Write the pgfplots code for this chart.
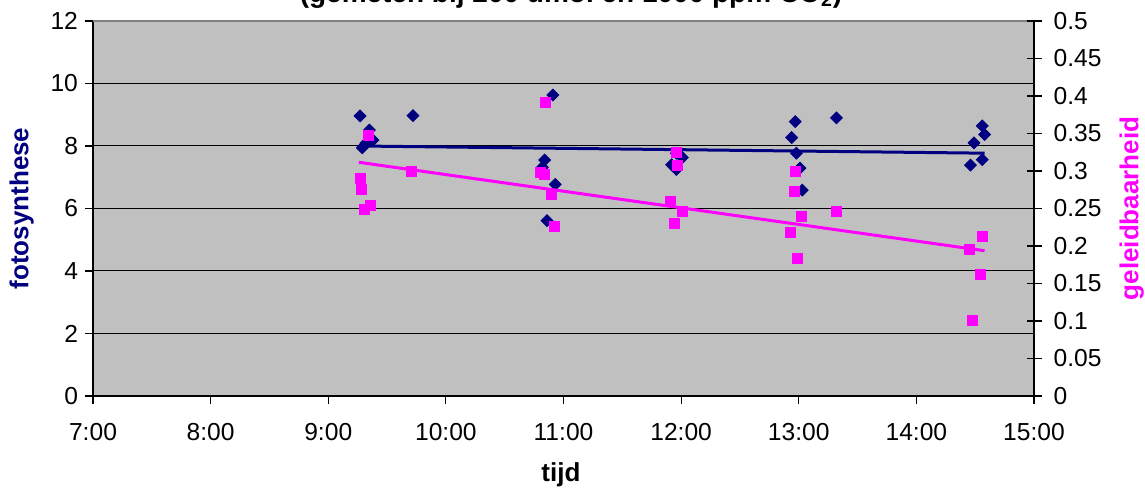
\documentclass[border=0pt]{standalone}
\usepackage{fontspec}
\setmainfont{Liberation Sans}
\usepackage{pgfplots}
\usepackage{pgfplotstable}
\pgfplotsset{compat=1.18}
\usetikzlibrary{calc}

\definecolor{fotoblue}{HTML}{000080}
\definecolor{geleidpink}{HTML}{FF00FF}
\definecolor{plotgrey}{HTML}{C0C0C0}
\definecolor{framegrey}{HTML}{808080}

% fotosynthese per meting (tijd in uren)
\pgfplotstableread{
t     foto
9.27  8.96
9.29  7.94
9.32  8.09
9.35  8.51
9.38  8.19
9.72  8.97
10.91 9.63
10.84 7.55
10.82 7.32
10.93 6.77
10.86 5.61
11.96 7.77
12.01 7.63
11.92 7.40
11.96 7.25
12.97 8.78
13.32 8.90
12.94 8.27
12.98 7.77
13.01 7.29
13.03 6.59
14.56 8.64
14.58 8.37
14.49 8.10
14.56 7.56
14.46 7.39
}\fototable

% geleidbaarheid per meting
\pgfplotstableread{
t     geleid
9.27  0.290
9.28  0.276
9.31  0.249
9.36  0.254
9.34  0.348
9.71  0.300
10.85 0.391
10.80 0.298
10.84 0.295
10.90 0.269
10.92 0.226
11.96 0.325
11.97 0.307
11.91 0.259
12.01 0.246
11.94 0.230
12.97 0.300
12.96 0.273
13.02 0.239
13.32 0.246
12.93 0.218
12.99 0.184
14.56 0.213
14.45 0.196
14.54 0.162
14.48 0.101
}\geleidtable

\pgfplotsset{
  chartbase/.style={
    scale only axis,
    width=470.5pt, height=187.5pt,
    xmin=7, xmax=15,
    xtick={7,8,9,10,11,12,13,14,15},
    xticklabels={7:00,8:00,9:00,10:00,11:00,12:00,13:00,14:00,15:00},
    tick label style={font=\fontsize{12.3}{14}\selectfont, /pgf/number format/assume math mode=true},
    label style={font=\bfseries\fontsize{13}{15}\selectfont},
    axis line style={-, black, line width=0.6pt},
    tick style={black, line width=0.6pt},
  }
}

\begin{document}
\begin{tikzpicture}
\begin{axis}[
  chartbase,
  name=main,
  ymin=0, ymax=12,
  ytick={0,2,4,6,8,10,12},
  axis background/.style={fill=plotgrey},
  axis x line*=bottom,
  axis y line*=left,
  tick align=outside,
  major tick length=4pt,
  xticklabel style={yshift=-6pt},
  ymajorgrids,
  major grid style={black, line width=0.5pt},
  xlabel={tijd},
  ylabel={fotosynthese},
  xlabel style={at={(axis description cs:0.4973,-0.2107)}, anchor=center},
  ylabel style={at={(axis description cs:-0.0759,0.5)}, anchor=center, color=fotoblue},
  title={(gemeten bij 200 umol en 1000 ppm CO\textsubscript{2})},
  title style={at={(axis description cs:0.508,1.0173)}, anchor=base, yshift=0pt,
    inner sep=0pt, font=\bfseries\fontsize{14}{16}\selectfont},
  extra description/.code={
    \draw[framegrey, line width=0.6pt] (rel axis cs:0,1) -- (rel axis cs:1,1);
  },
]
\addplot[only marks, mark=square*, mark size=2.1pt,
  mark options={rotate=45, fill=fotoblue, draw=fotoblue}]
  table[x=t, y=foto] {\fototable};
% lineaire trendlijn fotosynthese
\addplot[fotoblue, line width=1.5pt] coordinates {(9.26,8.00) (14.58,7.77)};
\end{axis}

\begin{axis}[
  chartbase,
  at={(main.south west)}, anchor=south west,
  ymin=0, ymax=0.5,
  ytick={0,0.05,0.1,0.15,0.2,0.25,0.3,0.35,0.4,0.45,0.5},
  scaled y ticks=false,
  yticklabel style={/pgf/number format/fixed, /pgf/number format/precision=2, xshift=2.5pt},
  axis x line=none,
  axis y line*=right,
  tick align=center,
  major tick length=7.5pt,
  ylabel={geleidbaarheid},
  ylabel style={at={(axis description cs:1.1037,0.5)}, anchor=center, color=geleidpink},
]
\addplot[only marks, mark=square*, mark size=2.5pt,
  mark options={fill=geleidpink, draw=geleidpink}]
  table[x=t, y=geleid] {\geleidtable};
% lineaire trendlijn geleidbaarheid
\addplot[geleidpink, line width=1.5pt] coordinates {(9.26,0.3116) (14.58,0.1937)};
\end{axis}

\pgfresetboundingbox
\path[use as bounding box] ($(main.south west)+(-46.5pt,-47.5pt)$) rectangle ($(main.south west)+(526pt,198pt)$);
\end{tikzpicture}
\end{document}
